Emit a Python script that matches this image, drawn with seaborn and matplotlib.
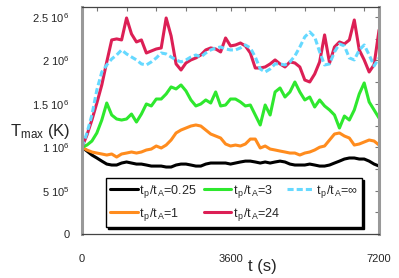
import numpy as np
import pandas as pd
import matplotlib
matplotlib.use("Agg")
import matplotlib.pyplot as plt
from matplotlib.ticker import MultipleLocator, FixedLocator
import seaborn as sns

# Waktu (s), grid tiap 120 s
time_s = list(range(0, 7201, 120))

# T_max dalam satuan 1e6 K
tmax_025 = [1.0, 0.956, 0.91, 0.876, 0.84, 0.806, 0.795, 0.795, 0.818, 0.83,
            0.818, 0.806, 0.806, 0.795, 0.783, 0.783, 0.783, 0.772, 0.772, 0.795,
            0.806, 0.806, 0.795, 0.783, 0.783, 0.806, 0.818, 0.818, 0.818, 0.818,
            0.806, 0.818, 0.83, 0.84, 0.84, 0.83, 0.818, 0.83, 0.818, 0.83,
            0.84, 0.83, 0.806, 0.795, 0.795, 0.795, 0.806, 0.795, 0.783, 0.783,
            0.795, 0.818, 0.84, 0.864, 0.876, 0.876, 0.864, 0.864, 0.84, 0.806,
            0.783]
tmax_1 = [1.0, 0.968, 0.945, 0.933, 0.922, 0.91, 0.922, 0.887, 0.922, 0.933,
          0.945, 0.933, 0.945, 0.968, 0.979, 1.014, 0.991, 1.025, 1.083, 1.164,
          1.198, 1.221, 1.244, 1.256, 1.244, 1.198, 1.152, 1.129, 1.106, 1.037,
          1.014, 1.025, 1.014, 1.037, 1.094, 1.094, 0.991, 1.014, 0.979, 0.968,
          0.956, 0.945, 0.933, 0.933, 0.91, 0.933, 0.945, 0.968, 1.0, 1.014,
          1.083, 1.152, 1.164, 1.129, 1.106, 1.025, 1.037, 1.06, 1.083, 1.071,
          1.025]
tmax_3 = [1.0, 1.025, 1.071, 1.164, 1.313, 1.509, 1.371, 1.325, 1.313, 1.325,
          1.382, 1.29, 1.382, 1.498, 1.475, 1.555, 1.555, 1.613, 1.694, 1.671,
          1.717, 1.648, 1.544, 1.475, 1.498, 1.544, 1.509, 1.636, 1.475, 1.486,
          1.555, 1.555, 1.521, 1.475, 1.486, 1.371, 1.256, 1.486, 1.371, 1.636,
          1.682, 1.578, 1.636, 1.751, 1.636, 1.544, 1.578, 1.463, 1.544, 1.475,
          1.429, 1.371, 1.221, 1.359, 1.313, 1.429, 1.613, 1.74, 1.521, 1.429,
          1.336]
tmax_24 = [1.0, 1.14, 1.313, 1.509, 1.717, 1.982, 2.235, 2.247, 2.235, 2.488,
           2.304, 2.212, 2.235, 2.085, 2.108, 2.131, 2.143, 2.488, 2.281, 1.959,
           1.889, 1.97, 2.005, 2.028, 2.062, 2.12, 2.143, 2.131, 2.097, 2.258,
           2.166, 2.177, 2.2, 2.166, 2.085, 1.912, 1.912, 1.924, 1.959, 2.005,
           1.959, 1.924, 1.982, 1.97, 1.924, 1.774, 1.751, 1.843, 1.982, 2.293,
           1.97, 2.154, 2.212, 2.189, 2.235, 2.465, 2.12, 2.005, 1.866, 1.95,
           2.35]
tmax_inf = [1.0, 1.164, 1.371, 1.659, 1.866, 1.947, 2.016, 2.062, 2.12, 2.074,
            2.039, 2.005, 1.959, 1.947, 1.982, 2.028, 2.085, 2.074, 2.039, 2.005,
            1.982, 2.005, 2.039, 2.062, 2.039, 2.085, 2.12, 2.143, 2.154, 2.131,
            2.12, 2.12, 2.143, 2.177, 2.143, 2.039, 1.901, 1.866, 1.901, 1.959,
            1.959, 1.947, 1.982, 2.051, 2.154, 2.27, 2.327, 2.27, 2.097, 1.947,
            1.959, 2.097, 2.189, 2.166, 2.028, 2.005, 2.12, 2.177, 2.062, 1.936,
            2.028]

labels = [r"t$_{\,p}$/t$_{\,A}$=0.25", r"t$_{\,p}$/t$_{\,A}$=1", r"t$_{\,p}$/t$_{\,A}$=3",
          r"t$_{\,p}$/t$_{\,A}$=24", r"t$_{\,p}$/t$_{\,A}$=∞"]
series = [tmax_025, tmax_1, tmax_3, tmax_24, tmax_inf]
colors = ["#000000", "#ff8c1e", "#2ee82e", "#dc1f55", "#66d9ff"]

yticks = [0, 0.5, 1.0, 1.5, 2.0, 2.5]
ytick_labels = ["0", r"5 10$^5$", r"1 10$^6$", r"1.5 10$^6$", r"2 10$^6$", r"2.5 10$^6$"]
xticks = [0, 3600, 7200]

sns.set_theme(style="white")
plt.rcParams['font.family'] = ['Liberation Sans', 'DejaVu Sans']
plt.rcParams['mathtext.fontset'] = 'custom'
plt.rcParams['mathtext.rm'] = 'Liberation Sans'
plt.rcParams['mathtext.it'] = 'Liberation Sans'

fig = plt.figure(figsize=(3.99, 2.78), dpi=100)
ax = fig.add_axes([0.2055, 0.158, 0.7445, 0.817])

for vals, lab, col in zip(series, labels, colors):
    df = pd.DataFrame({"t": time_s, "T": vals})
    ls = (0, (2, 1)) if lab.endswith("∞") else "-"
    sns.lineplot(data=df, x="t", y="T", ax=ax, color=col, lw=2.2,
                 linestyle=ls, label=lab)

ax.set_xlim(0, 7200)
ax.set_ylim(0, 2.615)
ax.set_xlabel("")
ax.set_ylabel("")

ax.set_yticks(yticks)
ax.set_yticklabels(ytick_labels, fontsize=8)
ax.set_xticks(xticks)
ax.set_xticklabels([str(x) for x in xticks], fontsize=8)
ax.xaxis.set_minor_locator(FixedLocator(list(range(360, 7200, 720))))
ax.yaxis.set_minor_locator(MultipleLocator(0.25))
ax.tick_params(axis="both", which="both", direction="in", top=True, right=True,
               color="#777777", length=3, width=0.8)
ax.tick_params(axis="x", which="major", pad=14)
ax.tick_params(axis="y", which="major", pad=9)

for side in ["left", "right"]:
    ax.spines[side].set_color("#999999")
    ax.spines[side].set_linewidth(2.2)
for side in ["top", "bottom"]:
    ax.spines[side].set_color("#444444")
    ax.spines[side].set_linewidth(0.9)

leg = ax.legend(loc="lower left", bbox_to_anchor=(0.081, 0.03, 0.862, 0.262),
                mode="expand", ncol=3, fontsize=9, frameon=True, fancybox=False,
                shadow={"color": "black", "alpha": 1.0, "ox": 1.6, "oy": -1.6},
                handlelength=2.2, handletextpad=0.1, columnspacing=0.3,
                borderaxespad=0, labelspacing=0.5, borderpad=0.35)
leg.get_frame().set_edgecolor("black")
leg.get_frame().set_linewidth(1.0)

fig.text(0.025, 1 - 132 / 278, r"T$_{\rm max}$ (K)", fontsize=12, va="center")
fig.text(262 / 399, 1 - 266 / 278, "t (s)", fontsize=12, ha="center", va="center")

fig.savefig("out.png", dpi=100)
